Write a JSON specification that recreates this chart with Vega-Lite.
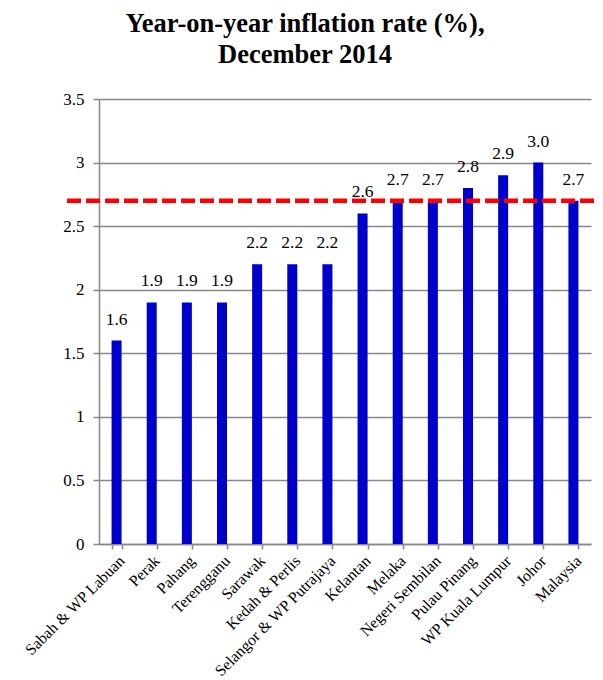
{
  "$schema": "https://vega.github.io/schema/vega-lite/v6.json",
  "width": 492,
  "height": 445,
  "autosize": {"type": "none"},
  "padding": {"left": 99, "top": 99, "right": 12, "bottom": 136},
  "background": "white",
  "title": {
    "text": ["Year-on-year inflation rate (%),", "December 2014"],
    "font": "Liberation Serif",
    "fontSize": 26.5,
    "fontWeight": "bold",
    "color": "black",
    "anchor": "middle",
    "dx": -40,
    "lineHeight": 31,
    "offset": 22
  },
  "config": {
    "view": {"stroke": null},
    "axis": {
      "labelFont": "Liberation Serif",
      "labelColor": "black",
      "domainColor": "#888888",
      "tickColor": "#888888",
      "gridColor": "#888888",
      "domainWidth": 1.5,
      "tickWidth": 1.5,
      "gridWidth": 1.5
    }
  },
  "layer": [
    {
      "data": {
        "values": [
          {"state": "Sabah & WP Labuan", "rate": 1.6},
          {"state": "Perak", "rate": 1.9},
          {"state": "Pahang", "rate": 1.9},
          {"state": "Terengganu", "rate": 1.9},
          {"state": "Sarawak", "rate": 2.2},
          {"state": "Kedah & Perlis", "rate": 2.2},
          {"state": "Selangor & WP Putrajaya", "rate": 2.2},
          {"state": "Kelantan", "rate": 2.6},
          {"state": "Melaka", "rate": 2.7},
          {"state": "Negeri Sembilan", "rate": 2.7},
          {"state": "Pulau Pinang", "rate": 2.8},
          {"state": "WP Kuala Lumpur", "rate": 2.9},
          {"state": "Johor", "rate": 3.0},
          {"state": "Malaysia", "rate": 2.7}
        ]
      },
      "encoding": {
        "x": {
          "field": "state",
          "type": "nominal",
          "sort": null,
          "scale": {"paddingInner": 0.715, "paddingOuter": 0.3575},
          "axis": {
            "title": null,
            "labelAngle": -45,
            "labelFontSize": 15.8,
            "labelPadding": 4,
            "labelLimit": 300,
            "tickBand": "extent",
            "tickSize": 5,
            "grid": false
          }
        },
        "y": {
          "field": "rate",
          "type": "quantitative",
          "scale": {"domain": [0, 3.5], "nice": false},
          "axis": {
            "title": null,
            "values": [0, 0.5, 1, 1.5, 2, 2.5, 3, 3.5],
            "format": "~g",
            "labelFontSize": 17,
            "tickSize": 6,
            "labelPadding": 9,
            "grid": true
          }
        }
      },
      "layer": [
        {"mark": {"type": "bar", "color": "#0000CC"}},
        {
          "mark": {
            "type": "text",
            "font": "Liberation Serif",
            "fontSize": 17.5,
            "color": "black",
            "baseline": "alphabetic",
            "dy": -16
          },
          "encoding": {"text": {"field": "rate", "type": "quantitative", "format": ".1f"}}
        }
      ]
    },
    {
      "data": {"values": [{"rate": 2.7, "x0": -0.065, "x1": 1.01}]},
      "mark": {"type": "rule", "color": "#FF0000", "strokeWidth": 4.5, "strokeDash": [14, 5]},
      "encoding": {
        "x": {"field": "x0", "type": "quantitative", "scale": {"domain": [0, 1]}, "axis": null},
        "x2": {"field": "x1"},
        "y": {"field": "rate", "type": "quantitative"}
      }
    }
  ],
  "resolve": {"scale": {"x": "independent"}}
}
